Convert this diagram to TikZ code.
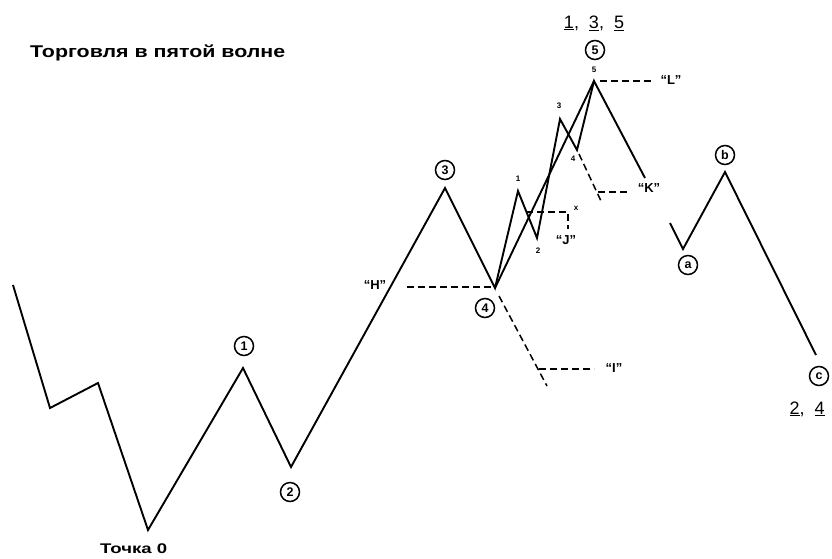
\documentclass[tikz,border=0pt]{standalone}
\usepackage{fontspec}
\setmainfont{Liberation Sans}
\usepackage{graphicx}
\begin{document}
\begin{tikzpicture}[x=1pt,y=-1pt,
  wave/.style={line width=1.9pt, line join=miter},
  dsh/.style={line width=1.5pt, dash pattern=on 7pt off 4pt},
  circ/.style={circle, draw, line width=1.5pt, inner sep=0pt, minimum size=19pt, font=\fontsize{12.5}{12.5}\selectfont\bfseries},
  lbl/.style={font=\fontsize{13}{15}\selectfont\bfseries, inner sep=0pt},
  small/.style={font=\fontsize{8}{9}\selectfont\bfseries, inner sep=0pt},
  big/.style={font=\fontsize{18}{20}\selectfont, inner sep=0pt}]
\useasboundingbox (0,0) rectangle (832,558);

% vertices
\coordinate (s) at (13,285);
\coordinate (p1) at (50,408);
\coordinate (p2) at (98,383);
\coordinate (p0) at (148,530);
\coordinate (w1) at (243,368);
\coordinate (w2) at (291,467);
\coordinate (w3) at (445,188);
\coordinate (w4) at (495,288);
\coordinate (v1) at (518,191);
\coordinate (v2) at (537,238);
\coordinate (v3) at (560,119);
\coordinate (v4) at (577,150);
\coordinate (w5) at (594,81);
\coordinate (ke) at (645,178);
\coordinate (as) at (670,223);
\coordinate (wa) at (683,249);
\coordinate (wb) at (725,172);
\coordinate (wc) at (816,355);

% main waves
\draw[wave] (s) -- (p1) -- (p2) -- (p0) -- (w1) -- (w2) -- (w3) -- (w4) -- (v1) -- (v2) -- (v3) -- (v4) -- (w5) -- (ke);
\draw[wave] (w4) -- (w5);
\draw[wave] (as) -- (wa) -- (wb) -- (wc);

% dashed levels
\coordinate (h0) at (407,287);
\coordinate (h1) at (495,287);
\draw[dsh] (h0) -- (h1);
\coordinate (i0) at (499,296);
\coordinate (i1) at (547,386);
\coordinate (i2) at (539,369);
\coordinate (i3) at (594,369);
\draw[dsh] (i0) -- (i1);
\draw[dsh] (i2) -- (i3);
\coordinate (j0) at (526,212);
\coordinate (j1) at (568,212);
\coordinate (j2) at (568,229);
\draw[dsh] (j0) -- (j1) -- (j2);
\coordinate (k0) at (579,154);
\coordinate (k1) at (601,201);
\coordinate (k2) at (598,192);
\coordinate (k3) at (629,192);
\draw[dsh] (k0) -- (k1);
\draw[dsh] (k2) -- (k3);
\coordinate (l0) at (600,81);
\coordinate (l1) at (653,81);
\draw[dsh] (l0) -- (l1);

% labels
\node[inner sep=0pt, anchor=west] (title) at (30,53)
  {\resizebox{255pt}{\height}{\bfseries\fontsize{17}{20}\selectfont Торговля в пятой волне}};
\node[inner sep=0pt, anchor=west] (tochka) at (100,549)
  {\resizebox{67pt}{\height}{\bfseries\fontsize{14}{16}\selectfont Точка 0}};

\node[circ] (c1) at (244,346) {1};
\node[circ] (c2) at (290,492) {2};
\node[circ] (c3) at (445,170) {3};
\node[circ] (c4) at (485,308) {4};
\node[circ] (c5) at (595,50) {5};
\node[circ] (ca) at (688,265) {a};
\node[circ] (cb) at (725,155) {b};
\node[circ] (cc) at (819,376) {c};

\node[lbl] (lh) at (375,285) {“H”};
\node[lbl] (li) at (614,368) {“I”};
\node[lbl] (lj) at (566,240) {“J”};
\node[lbl] (lk) at (649,188) {“K”};
\node[lbl] (ll) at (671,80) {“L”};
\node[small] (lx) at (576,208) {x};

\node[small] (n1) at (518,179) {1};
\node[small] (n2) at (538,251) {2};
\node[small] (n3) at (559,106) {3};
\node[small] (n4) at (573,159) {4};
\node[small] (n5) at (594,70) {5};

\node[big] (top) at (594,23) {\underline{1},\hspace{10pt}\underline{3},\hspace{10pt}\underline{5}};
\node[big] (bot) at (807,409) {\underline{2},\hspace{10pt}\underline{4}};
\end{tikzpicture}
\end{document}
